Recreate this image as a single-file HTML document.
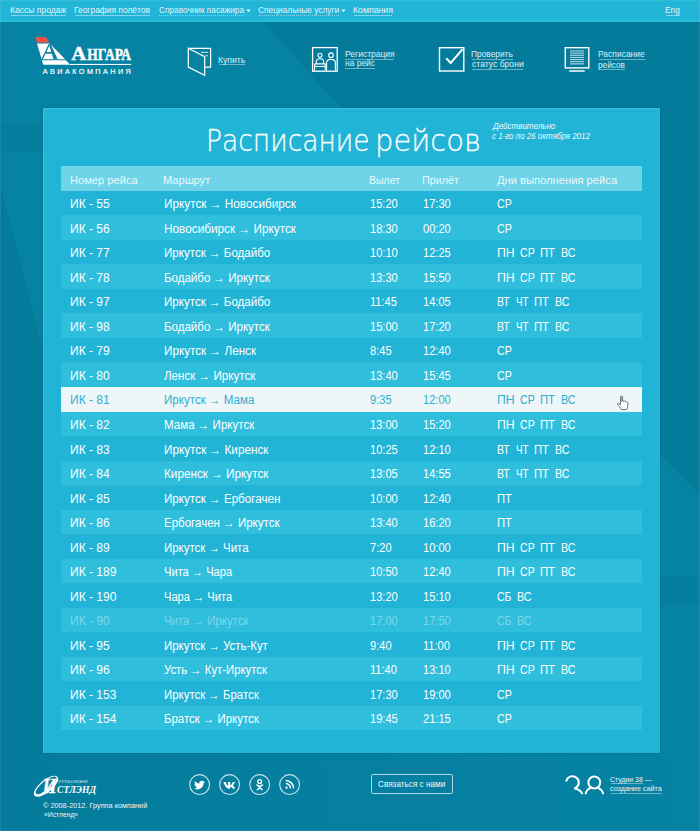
<!DOCTYPE html>
<html lang="ru"><head><meta charset="utf-8"><title>Расписание рейсов — Ангара</title>
<style>
html,body{margin:0;padding:0}
html{background:#0682a3}
body{width:700px;height:831px;position:relative;overflow:hidden;background:#0a84a4;font-family:"Liberation Sans",sans-serif}
.t{position:absolute;white-space:nowrap;transform-origin:0 0;display:block}
.r{position:absolute;box-sizing:content-box}
.a,.bgsvg{position:absolute;display:block;overflow:visible}
.bgsvg{left:0;top:0}
.u{position:absolute;display:block;height:1px}
</style></head>
<body>
<svg class="bgsvg" width="700" height="831" viewBox="0 0 700 831">
<defs><linearGradient id="fg" x1="0" y1="0" x2="1" y2="0"><stop offset="0" stop-color="#047b9b"/><stop offset=".25" stop-color="#057e9e"/><stop offset="1" stop-color="#0682a3"/></linearGradient></defs>
<rect width="700" height="831" fill="#0682a3"/>
<polygon points="264,22 700,22 700,495 660,455 660,108 341,108" fill="#047b9b"/>
<rect x="0" y="123" width="43" height="29" fill="#057e9e"/>
<polygon points="0,185 43,350 43,753 0,753" fill="#047b9b"/>
<rect x="0" y="753" width="700" height="78" fill="url(#fg)"/>
<rect x="660" y="576" width="40" height="30" fill="#057f9f"/>
</svg>
<div class="r" style="left:0px;top:0px;width:700px;height:22px;background:#22b5d7;"></div>
<div class="r" style="left:0px;top:20px;width:700px;height:1.6px;background:#27bcdc;"></div>
<span class="t " style="left:9.82px;top:5px;font:normal normal 8.6px/10px 'Liberation Sans',sans-serif;color:#e0f4fa;transform:scaleX(0.9944);">Кассы продаж</span>
<i class="u" style="left:10.50px;top:15.00px;width:55.50px;background:rgba(255,255,255,.42)"></i>
<span class="t " style="left:74.33px;top:5px;font:normal normal 8.6px/10px 'Liberation Sans',sans-serif;color:#e0f4fa;transform:scaleX(0.9804);">География полётов</span>
<i class="u" style="left:75.00px;top:15.00px;width:75.00px;background:rgba(255,255,255,.42)"></i>
<span class="t " style="left:158.89px;top:5px;font:normal normal 8.6px/10px 'Liberation Sans',sans-serif;color:#e0f4fa;transform:scaleX(0.9637);">Справочник пасажира</span>
<i class="u" style="left:159.30px;top:15.00px;width:84.70px;border-top:1px dotted rgba(255,255,255,.42);height:0"></i>
<span class="t " style="left:258.33px;top:5px;font:normal normal 8.6px/10px 'Liberation Sans',sans-serif;color:#e0f4fa;transform:scaleX(0.9731);">Специальные услуги</span>
<i class="u" style="left:258.75px;top:15.00px;width:80.30px;border-top:1px dotted rgba(255,255,255,.42);height:0"></i>
<span class="t " style="left:353.05px;top:5px;font:normal normal 8.6px/10px 'Liberation Sans',sans-serif;color:#e0f4fa;transform:scaleX(1.0158);">Компания</span>
<i class="u" style="left:353.75px;top:15.00px;width:38.70px;background:rgba(255,255,255,.42)"></i>
<span class="t " style="left:665.33px;top:5px;font:normal normal 8.6px/10px 'Liberation Sans',sans-serif;color:#e0f4fa;transform:scaleX(0.9714);">Eng</span>
<i class="u" style="left:666.00px;top:15.00px;width:13.70px;background:rgba(255,255,255,.42)"></i>
<svg class="a" style="left:245.5px;top:9px" width="5" height="4" viewBox="0 0 5 4"><path d="M0.3 0.6 L4.7 0.6 L2.5 3.2 Z" fill="#eaf8fc"/></svg>
<svg class="a" style="left:341.0px;top:9px" width="5" height="4" viewBox="0 0 5 4"><path d="M0.3 0.6 L4.7 0.6 L2.5 3.2 Z" fill="#eaf8fc"/></svg>
<svg class="a" style="left:30px;top:30px" width="110" height="50" viewBox="30 30 110 50">
<polygon points="35.2,36.9 45.6,36.9 49.4,42.5 36.9,42.5" fill="#f0524b"/>
<polygon points="37,43.4 49.7,43.4 65.2,59.2 41.7,59.2" fill="#fff"/>
<polygon points="41.8,60.2 65.9,60.2 70.2,64.7 43.4,64.7" fill="#fff"/>
<path d="M49.5 43.9 L42.1 59.4" fill="none" stroke="#0a84a4" stroke-width="1.3"/>
<polygon points="49.1,44 50.7,44 57.6,59.3 53.5,59.3 49.6,46.6" fill="#0a84a4"/>
<rect x="45.6" y="52" width="7" height="1.7" fill="#0a84a4"/>
<rect x="70" y="63.9" width="61" height="1.1" fill="#fff"/>
<text x="71.2" y="59.6" font-family="'Liberation Serif',serif" font-weight="bold" font-size="19.4" fill="#fff" stroke="#fff" stroke-width=".4" textLength="15" lengthAdjust="spacingAndGlyphs">А</text>
<text x="87.3" y="59.6" font-family="'Liberation Serif',serif" font-weight="bold" font-size="16.8" fill="#fff" stroke="#fff" stroke-width=".5" textLength="43.6" lengthAdjust="spacingAndGlyphs">НГАРА</text>
<text x="42.8" y="73.6" font-family="'Liberation Sans',sans-serif" font-size="7.2" fill="#fff" stroke="#fff" stroke-width=".2" textLength="88" lengthAdjust="spacing">АВИАКОМПАНИЯ</text>
</svg>
<svg class="a" style="left:185px;top:45px" width="30" height="34" viewBox="185 45 30 34" fill="none" stroke="#fff" stroke-width="1.25" stroke-linejoin="miter">
<path d="M188.3 48.3 H210.6 V67.2 H205"/>
<path d="M188.3 48.3 L204.7 56.6 V75.3 L188.3 67 Z"/>
<path d="M201 52.3 H208 M205.3 55.8 H208" stroke-width="1" opacity=".8"/>
</svg>
<span class="t " style="left:218.21px;top:55px;font:normal normal 8.8px/10px 'Liberation Sans',sans-serif;color:#d9f0f7;transform:scaleX(0.9794);">Купить</span>
<i class="u" style="left:218.90px;top:64.40px;width:26.20px;background:rgba(255,255,255,.42)"></i>
<svg class="a" style="left:310px;top:45px" width="30" height="30" viewBox="310 45 30 30" fill="none" stroke="#fff" stroke-width="1.3">
<rect x="312.6" y="47.6" width="24.6" height="23.6"/>
<circle cx="320" cy="55.3" r="2" stroke-width="1.1"/>
<path d="M316.3 63.8 V61.6 Q316.3 58.8 320 58.8 Q323.7 58.8 323.7 61.6 V63.8" stroke-width="1.1"/>
<path d="M314.6 63.9 H325.2 V70.6 M314.6 63.9 V70.6 M314.6 66.5 H325.2" stroke-width="1.1"/>
<circle cx="331" cy="55.2" r="2.3" stroke-width="1.1"/>
<path d="M326.6 70.6 V62.8 Q326.6 59.4 331 59.4 Q335.4 59.4 335.4 62.8 V70.6" stroke-width="1.1"/>
</svg>
<span class="t " style="left:344.72px;top:49px;font:normal normal 8.8px/10px 'Liberation Sans',sans-serif;color:#d9f0f7;transform:scaleX(0.9669);">Регистрация</span>
<i class="u" style="left:345.40px;top:58.70px;width:48.50px;background:rgba(255,255,255,.42)"></i>
<span class="t " style="left:344.81px;top:58px;font:normal normal 8.8px/10px 'Liberation Sans',sans-serif;color:#d9f0f7;transform:scaleX(0.9590);">на рейс</span>
<i class="u" style="left:345.40px;top:68.10px;width:29.20px;background:rgba(255,255,255,.42)"></i>
<svg class="a" style="left:436px;top:45px" width="32" height="30" viewBox="436 45 32 30" fill="none" stroke="#fff">
<rect x="439.5" y="47.7" width="24.3" height="23.3" stroke-width="1.4"/>
<path d="M446.2 58.2 L450.7 62.9 L462.4 49.4" stroke-width="2"/>
</svg>
<span class="t " style="left:471.43px;top:49px;font:normal normal 8.8px/10px 'Liberation Sans',sans-serif;color:#d9f0f7;transform:scaleX(0.9501);">Проверить</span>
<i class="u" style="left:472.10px;top:59.10px;width:40.80px;background:rgba(255,255,255,.42)"></i>
<span class="t " style="left:471.76px;top:59px;font:normal normal 8.8px/10px 'Liberation Sans',sans-serif;color:#d9f0f7;transform:scaleX(0.9776);">статус брони</span>
<i class="u" style="left:472.10px;top:68.90px;width:50.80px;background:rgba(255,255,255,.42)"></i>
<svg class="a" style="left:562px;top:45px" width="32" height="30" viewBox="562 45 32 30" fill="none" stroke="#fff"><rect x="565.3" y="47.7" width="23.5" height="20.2" stroke-width="1.4"/><path d="M569.3 71 H584.7" stroke-width="1.5"/><path d="M570 51.00 H584" stroke-width="1" opacity=".75"/><path d="M570 53.15 H584" stroke-width="1" opacity=".75"/><path d="M570 55.30 H584" stroke-width="1" opacity=".75"/><path d="M570 57.45 H584" stroke-width="1" opacity=".75"/><path d="M570 59.60 H584" stroke-width="1" opacity=".75"/><path d="M570 61.75 H584" stroke-width="1" opacity=".75"/><path d="M570 63.90 H584" stroke-width="1" opacity=".75"/></svg>
<span class="t " style="left:598.32px;top:49px;font:normal normal 8.8px/10px 'Liberation Sans',sans-serif;color:#d9f0f7;transform:scaleX(0.9635);">Расписание</span>
<i class="u" style="left:599.00px;top:59.10px;width:45.70px;background:rgba(255,255,255,.42)"></i>
<span class="t " style="left:598.47px;top:60px;font:normal normal 8.8px/10px 'Liberation Sans',sans-serif;color:#d9f0f7;transform:scaleX(0.9335);">рейсов</span>
<i class="u" style="left:599.00px;top:69.30px;width:26.00px;background:rgba(255,255,255,.42)"></i>
<div class="r" style="left:43px;top:108px;width:617px;height:645px;background:#21b4d6;box-shadow:0 0 1.5px rgba(0,50,70,.45), inset 1px 1px 0 rgba(70,215,245,.45);"></div>
<span class="t " style="left:206.32px;top:124px;font:normal 200 29.6px/34px 'DejaVu Sans Light','DejaVu Sans',sans-serif;color:#fafeff;transform:scaleX(0.8962);-webkit-text-stroke:.3px #fafeff;">Расписание</span>
<span class="t " style="left:375.47px;top:124px;font:normal 200 29.6px/34px 'DejaVu Sans Light','DejaVu Sans',sans-serif;color:#fafeff;transform:scaleX(0.9784);-webkit-text-stroke:.3px #fafeff;">рейсов</span>
<span class="t " style="left:493.16px;top:121px;font:italic normal 8.3px/10px 'Liberation Sans',sans-serif;color:#f2fbfd;transform:scaleX(0.9645);">Действительно</span>
<span class="t " style="left:492.16px;top:131px;font:italic normal 8.3px/10px 'Liberation Sans',sans-serif;color:#f2fbfd;transform:scaleX(0.9595);">с 1-го по 26 октября 2012</span>
<div class="r" style="left:61px;top:166.3px;width:581px;height:24.53px;background:#6fd4e8;"></div>
<span class="t " style="left:69.71px;top:174px;font:normal normal 11.2px/12px 'Liberation Sans',sans-serif;color:rgba(255,255,255,.88);transform:scaleX(0.9940);">Номер рейса</span>
<span class="t " style="left:162.86px;top:174px;font:normal normal 11.2px/12px 'Liberation Sans',sans-serif;color:rgba(255,255,255,.88);transform:scaleX(0.9904);">Маршрут</span>
<span class="t " style="left:369.16px;top:174px;font:normal normal 11.2px/12px 'Liberation Sans',sans-serif;color:rgba(255,255,255,.88);transform:scaleX(0.9398);">Вылет</span>
<span class="t " style="left:422.14px;top:174px;font:normal normal 11.2px/12px 'Liberation Sans',sans-serif;color:rgba(255,255,255,.88);transform:scaleX(0.9638);">Прилёт</span>
<span class="t " style="left:496.94px;top:174px;font:normal normal 11.2px/12px 'Liberation Sans',sans-serif;color:rgba(255,255,255,.88);">Дни выполнения рейса</span>
<span class="t " style="left:70.04px;top:197px;font:normal normal 12px/14px 'Liberation Sans',sans-serif;color:#fff;">ИК - 55</span>
<span class="t " style="left:163.56px;top:197px;font:normal normal 12px/14px 'Liberation Sans',sans-serif;color:#fff;transform:scaleX(0.9813);">Иркутск → Новосибирск</span>
<span class="t " style="left:369.77px;top:197px;font:normal normal 12px/14px 'Liberation Sans',sans-serif;color:#fff;transform:scaleX(0.9250);">15:20</span>
<span class="t " style="left:422.77px;top:197px;font:normal normal 12px/14px 'Liberation Sans',sans-serif;color:#fff;transform:scaleX(0.9250);">17:30</span>
<span class="t " style="left:496.97px;top:197px;font:normal normal 12px/14px 'Liberation Sans',sans-serif;color:#fff;transform:scaleX(0.8820);">СР</span>
<div class="r" style="left:61px;top:215.36px;width:581px;height:24.53px;background:#30bedd;"></div>
<span class="t " style="left:70.04px;top:222px;font:normal normal 12px/14px 'Liberation Sans',sans-serif;color:#fff;">ИК - 56</span>
<span class="t " style="left:163.56px;top:222px;font:normal normal 12px/14px 'Liberation Sans',sans-serif;color:#fff;transform:scaleX(0.9820);">Новосибирск → Иркутск</span>
<span class="t " style="left:369.77px;top:222px;font:normal normal 12px/14px 'Liberation Sans',sans-serif;color:#fff;transform:scaleX(0.9250);">18:30</span>
<span class="t " style="left:423.16px;top:222px;font:normal normal 12px/14px 'Liberation Sans',sans-serif;color:#fff;transform:scaleX(0.9250);">00:20</span>
<span class="t " style="left:496.97px;top:222px;font:normal normal 12px/14px 'Liberation Sans',sans-serif;color:#fff;transform:scaleX(0.8820);">СР</span>
<span class="t " style="left:70.04px;top:246px;font:normal normal 12px/14px 'Liberation Sans',sans-serif;color:#fff;">ИК - 77</span>
<span class="t " style="left:163.57px;top:246px;font:normal normal 12px/14px 'Liberation Sans',sans-serif;color:#fff;transform:scaleX(0.9649);">Иркутск → Бодайбо</span>
<span class="t " style="left:369.77px;top:246px;font:normal normal 12px/14px 'Liberation Sans',sans-serif;color:#fff;transform:scaleX(0.9250);">10:10</span>
<span class="t " style="left:422.77px;top:246px;font:normal normal 12px/14px 'Liberation Sans',sans-serif;color:#fff;transform:scaleX(0.9250);">12:25</span>
<span class="t " style="left:496.52px;top:246px;font:normal normal 12px/14px 'Liberation Sans',sans-serif;color:#fff;transform:scaleX(1.0221);">ПН</span>
<span class="t " style="left:519.87px;top:246px;font:normal normal 12px/14px 'Liberation Sans',sans-serif;color:#fff;transform:scaleX(0.8820);">СР</span>
<span class="t " style="left:540.30px;top:246px;font:normal normal 12px/14px 'Liberation Sans',sans-serif;color:#fff;transform:scaleX(0.9417);">ПТ</span>
<span class="t " style="left:561.44px;top:246px;font:normal normal 12px/14px 'Liberation Sans',sans-serif;color:#fff;transform:scaleX(0.8938);">ВС</span>
<div class="r" style="left:61px;top:264.42px;width:581px;height:24.53px;background:#30bedd;"></div>
<span class="t " style="left:70.04px;top:271px;font:normal normal 12px/14px 'Liberation Sans',sans-serif;color:#fff;">ИК - 78</span>
<span class="t " style="left:163.58px;top:271px;font:normal normal 12px/14px 'Liberation Sans',sans-serif;color:#fff;transform:scaleX(0.9601);">Бодайбо → Иркутск</span>
<span class="t " style="left:369.77px;top:271px;font:normal normal 12px/14px 'Liberation Sans',sans-serif;color:#fff;transform:scaleX(0.9250);">13:30</span>
<span class="t " style="left:422.77px;top:271px;font:normal normal 12px/14px 'Liberation Sans',sans-serif;color:#fff;transform:scaleX(0.9250);">15:50</span>
<span class="t " style="left:496.52px;top:271px;font:normal normal 12px/14px 'Liberation Sans',sans-serif;color:#fff;transform:scaleX(1.0221);">ПН</span>
<span class="t " style="left:519.87px;top:271px;font:normal normal 12px/14px 'Liberation Sans',sans-serif;color:#fff;transform:scaleX(0.8820);">СР</span>
<span class="t " style="left:540.30px;top:271px;font:normal normal 12px/14px 'Liberation Sans',sans-serif;color:#fff;transform:scaleX(0.9417);">ПТ</span>
<span class="t " style="left:561.44px;top:271px;font:normal normal 12px/14px 'Liberation Sans',sans-serif;color:#fff;transform:scaleX(0.8938);">ВС</span>
<span class="t " style="left:70.04px;top:295px;font:normal normal 12px/14px 'Liberation Sans',sans-serif;color:#fff;">ИК - 97</span>
<span class="t " style="left:163.57px;top:295px;font:normal normal 12px/14px 'Liberation Sans',sans-serif;color:#fff;transform:scaleX(0.9649);">Иркутск → Бодайбо</span>
<span class="t " style="left:369.77px;top:295px;font:normal normal 12px/14px 'Liberation Sans',sans-serif;color:#fff;transform:scaleX(0.9250);">11:45</span>
<span class="t " style="left:422.77px;top:295px;font:normal normal 12px/14px 'Liberation Sans',sans-serif;color:#fff;transform:scaleX(0.9250);">14:05</span>
<span class="t " style="left:496.66px;top:295px;font:normal normal 12px/14px 'Liberation Sans',sans-serif;color:#fff;transform:scaleX(0.8709);">ВТ</span>
<span class="t " style="left:515.56px;top:295px;font:normal normal 12px/14px 'Liberation Sans',sans-serif;color:#fff;transform:scaleX(0.8192);">ЧТ</span>
<span class="t " style="left:534.20px;top:295px;font:normal normal 12px/14px 'Liberation Sans',sans-serif;color:#fff;transform:scaleX(0.9417);">ПТ</span>
<span class="t " style="left:555.34px;top:295px;font:normal normal 12px/14px 'Liberation Sans',sans-serif;color:#fff;transform:scaleX(0.8938);">ВС</span>
<div class="r" style="left:61px;top:313.48px;width:581px;height:24.53px;background:#30bedd;"></div>
<span class="t " style="left:70.04px;top:320px;font:normal normal 12px/14px 'Liberation Sans',sans-serif;color:#fff;">ИК - 98</span>
<span class="t " style="left:163.58px;top:320px;font:normal normal 12px/14px 'Liberation Sans',sans-serif;color:#fff;transform:scaleX(0.9601);">Бодайбо → Иркутск</span>
<span class="t " style="left:369.77px;top:320px;font:normal normal 12px/14px 'Liberation Sans',sans-serif;color:#fff;transform:scaleX(0.9250);">15:00</span>
<span class="t " style="left:422.77px;top:320px;font:normal normal 12px/14px 'Liberation Sans',sans-serif;color:#fff;transform:scaleX(0.9250);">17:20</span>
<span class="t " style="left:496.66px;top:320px;font:normal normal 12px/14px 'Liberation Sans',sans-serif;color:#fff;transform:scaleX(0.8709);">ВТ</span>
<span class="t " style="left:515.56px;top:320px;font:normal normal 12px/14px 'Liberation Sans',sans-serif;color:#fff;transform:scaleX(0.8192);">ЧТ</span>
<span class="t " style="left:534.20px;top:320px;font:normal normal 12px/14px 'Liberation Sans',sans-serif;color:#fff;transform:scaleX(0.9417);">ПТ</span>
<span class="t " style="left:555.34px;top:320px;font:normal normal 12px/14px 'Liberation Sans',sans-serif;color:#fff;transform:scaleX(0.8938);">ВС</span>
<span class="t " style="left:70.04px;top:344px;font:normal normal 12px/14px 'Liberation Sans',sans-serif;color:#fff;">ИК - 79</span>
<span class="t " style="left:163.56px;top:344px;font:normal normal 12px/14px 'Liberation Sans',sans-serif;color:#fff;transform:scaleX(0.9756);">Иркутск → Ленск</span>
<span class="t " style="left:370.16px;top:344px;font:normal normal 12px/14px 'Liberation Sans',sans-serif;color:#fff;transform:scaleX(0.9250);">8:45</span>
<span class="t " style="left:422.77px;top:344px;font:normal normal 12px/14px 'Liberation Sans',sans-serif;color:#fff;transform:scaleX(0.9250);">12:40</span>
<span class="t " style="left:496.97px;top:344px;font:normal normal 12px/14px 'Liberation Sans',sans-serif;color:#fff;transform:scaleX(0.8820);">СР</span>
<div class="r" style="left:61px;top:362.54px;width:581px;height:24.53px;background:#30bedd;"></div>
<span class="t " style="left:70.04px;top:369px;font:normal normal 12px/14px 'Liberation Sans',sans-serif;color:#fff;">ИК - 80</span>
<span class="t " style="left:164.38px;top:369px;font:normal normal 12px/14px 'Liberation Sans',sans-serif;color:#fff;transform:scaleX(0.9669);">Ленск → Иркутск</span>
<span class="t " style="left:369.77px;top:369px;font:normal normal 12px/14px 'Liberation Sans',sans-serif;color:#fff;transform:scaleX(0.9250);">13:40</span>
<span class="t " style="left:422.77px;top:369px;font:normal normal 12px/14px 'Liberation Sans',sans-serif;color:#fff;transform:scaleX(0.9250);">15:45</span>
<span class="t " style="left:496.97px;top:369px;font:normal normal 12px/14px 'Liberation Sans',sans-serif;color:#fff;transform:scaleX(0.8820);">СР</span>
<div class="r" style="left:61px;top:387.07px;width:581px;height:24.53px;background:#eef6f8;"></div>
<span class="t " style="left:70.04px;top:393px;font:normal normal 12px/14px 'Liberation Sans',sans-serif;color:#2cb0d2;">ИК - 81</span>
<span class="t " style="left:163.57px;top:393px;font:normal normal 12px/14px 'Liberation Sans',sans-serif;color:#2cb0d2;transform:scaleX(0.9644);">Иркутск → Мама</span>
<span class="t " style="left:370.10px;top:393px;font:normal normal 12px/14px 'Liberation Sans',sans-serif;color:#2cb0d2;transform:scaleX(0.9250);">9:35</span>
<span class="t " style="left:422.77px;top:393px;font:normal normal 12px/14px 'Liberation Sans',sans-serif;color:#2cb0d2;transform:scaleX(0.9250);">12:00</span>
<span class="t " style="left:496.52px;top:393px;font:normal normal 12px/14px 'Liberation Sans',sans-serif;color:#2cb0d2;transform:scaleX(1.0221);">ПН</span>
<span class="t " style="left:519.87px;top:393px;font:normal normal 12px/14px 'Liberation Sans',sans-serif;color:#2cb0d2;transform:scaleX(0.8820);">СР</span>
<span class="t " style="left:540.30px;top:393px;font:normal normal 12px/14px 'Liberation Sans',sans-serif;color:#2cb0d2;transform:scaleX(0.9417);">ПТ</span>
<span class="t " style="left:561.44px;top:393px;font:normal normal 12px/14px 'Liberation Sans',sans-serif;color:#2cb0d2;transform:scaleX(0.8938);">ВС</span>
<div class="r" style="left:61px;top:411.6px;width:581px;height:24.53px;background:#30bedd;"></div>
<span class="t " style="left:70.04px;top:418px;font:normal normal 12px/14px 'Liberation Sans',sans-serif;color:#fff;">ИК - 82</span>
<span class="t " style="left:163.57px;top:418px;font:normal normal 12px/14px 'Liberation Sans',sans-serif;color:#fff;transform:scaleX(0.9638);">Мама → Иркутск</span>
<span class="t " style="left:369.77px;top:418px;font:normal normal 12px/14px 'Liberation Sans',sans-serif;color:#fff;transform:scaleX(0.9250);">13:00</span>
<span class="t " style="left:422.77px;top:418px;font:normal normal 12px/14px 'Liberation Sans',sans-serif;color:#fff;transform:scaleX(0.9250);">15:20</span>
<span class="t " style="left:496.52px;top:418px;font:normal normal 12px/14px 'Liberation Sans',sans-serif;color:#fff;transform:scaleX(1.0221);">ПН</span>
<span class="t " style="left:519.87px;top:418px;font:normal normal 12px/14px 'Liberation Sans',sans-serif;color:#fff;transform:scaleX(0.8820);">СР</span>
<span class="t " style="left:540.30px;top:418px;font:normal normal 12px/14px 'Liberation Sans',sans-serif;color:#fff;transform:scaleX(0.9417);">ПТ</span>
<span class="t " style="left:561.44px;top:418px;font:normal normal 12px/14px 'Liberation Sans',sans-serif;color:#fff;transform:scaleX(0.8938);">ВС</span>
<span class="t " style="left:70.04px;top:443px;font:normal normal 12px/14px 'Liberation Sans',sans-serif;color:#fff;">ИК - 83</span>
<span class="t " style="left:163.56px;top:443px;font:normal normal 12px/14px 'Liberation Sans',sans-serif;color:#fff;transform:scaleX(0.9768);">Иркутск → Киренск</span>
<span class="t " style="left:369.77px;top:443px;font:normal normal 12px/14px 'Liberation Sans',sans-serif;color:#fff;transform:scaleX(0.9250);">10:25</span>
<span class="t " style="left:422.77px;top:443px;font:normal normal 12px/14px 'Liberation Sans',sans-serif;color:#fff;transform:scaleX(0.9250);">12:10</span>
<span class="t " style="left:496.66px;top:443px;font:normal normal 12px/14px 'Liberation Sans',sans-serif;color:#fff;transform:scaleX(0.8709);">ВТ</span>
<span class="t " style="left:515.56px;top:443px;font:normal normal 12px/14px 'Liberation Sans',sans-serif;color:#fff;transform:scaleX(0.8192);">ЧТ</span>
<span class="t " style="left:534.20px;top:443px;font:normal normal 12px/14px 'Liberation Sans',sans-serif;color:#fff;transform:scaleX(0.9417);">ПТ</span>
<span class="t " style="left:555.34px;top:443px;font:normal normal 12px/14px 'Liberation Sans',sans-serif;color:#fff;transform:scaleX(0.8938);">ВС</span>
<div class="r" style="left:61px;top:460.66px;width:581px;height:24.53px;background:#30bedd;"></div>
<span class="t " style="left:70.04px;top:467px;font:normal normal 12px/14px 'Liberation Sans',sans-serif;color:#fff;">ИК - 84</span>
<span class="t " style="left:163.56px;top:467px;font:normal normal 12px/14px 'Liberation Sans',sans-serif;color:#fff;transform:scaleX(0.9768);">Киренск → Иркутск</span>
<span class="t " style="left:369.77px;top:467px;font:normal normal 12px/14px 'Liberation Sans',sans-serif;color:#fff;transform:scaleX(0.9250);">13:05</span>
<span class="t " style="left:422.77px;top:467px;font:normal normal 12px/14px 'Liberation Sans',sans-serif;color:#fff;transform:scaleX(0.9250);">14:55</span>
<span class="t " style="left:496.66px;top:467px;font:normal normal 12px/14px 'Liberation Sans',sans-serif;color:#fff;transform:scaleX(0.8709);">ВТ</span>
<span class="t " style="left:515.56px;top:467px;font:normal normal 12px/14px 'Liberation Sans',sans-serif;color:#fff;transform:scaleX(0.8192);">ЧТ</span>
<span class="t " style="left:534.20px;top:467px;font:normal normal 12px/14px 'Liberation Sans',sans-serif;color:#fff;transform:scaleX(0.9417);">ПТ</span>
<span class="t " style="left:555.34px;top:467px;font:normal normal 12px/14px 'Liberation Sans',sans-serif;color:#fff;transform:scaleX(0.8938);">ВС</span>
<span class="t " style="left:70.04px;top:492px;font:normal normal 12px/14px 'Liberation Sans',sans-serif;color:#fff;">ИК - 85</span>
<span class="t " style="left:163.57px;top:492px;font:normal normal 12px/14px 'Liberation Sans',sans-serif;color:#fff;transform:scaleX(0.9671);">Иркутск → Ербогачен</span>
<span class="t " style="left:369.77px;top:492px;font:normal normal 12px/14px 'Liberation Sans',sans-serif;color:#fff;transform:scaleX(0.9250);">10:00</span>
<span class="t " style="left:422.77px;top:492px;font:normal normal 12px/14px 'Liberation Sans',sans-serif;color:#fff;transform:scaleX(0.9250);">12:40</span>
<span class="t " style="left:496.60px;top:492px;font:normal normal 12px/14px 'Liberation Sans',sans-serif;color:#fff;transform:scaleX(0.9417);">ПТ</span>
<div class="r" style="left:61px;top:509.72px;width:581px;height:24.53px;background:#30bedd;"></div>
<span class="t " style="left:70.04px;top:516px;font:normal normal 12px/14px 'Liberation Sans',sans-serif;color:#fff;">ИК - 86</span>
<span class="t " style="left:163.58px;top:516px;font:normal normal 12px/14px 'Liberation Sans',sans-serif;color:#fff;transform:scaleX(0.9603);">Ербогачен → Иркутск</span>
<span class="t " style="left:369.77px;top:516px;font:normal normal 12px/14px 'Liberation Sans',sans-serif;color:#fff;transform:scaleX(0.9250);">13:40</span>
<span class="t " style="left:422.77px;top:516px;font:normal normal 12px/14px 'Liberation Sans',sans-serif;color:#fff;transform:scaleX(0.9250);">16:20</span>
<span class="t " style="left:496.60px;top:516px;font:normal normal 12px/14px 'Liberation Sans',sans-serif;color:#fff;transform:scaleX(0.9417);">ПТ</span>
<span class="t " style="left:70.04px;top:541px;font:normal normal 12px/14px 'Liberation Sans',sans-serif;color:#fff;">ИК - 89</span>
<span class="t " style="left:163.59px;top:541px;font:normal normal 12px/14px 'Liberation Sans',sans-serif;color:#fff;transform:scaleX(0.9530);">Иркутск → Чита</span>
<span class="t " style="left:370.05px;top:541px;font:normal normal 12px/14px 'Liberation Sans',sans-serif;color:#fff;transform:scaleX(0.9250);">7:20</span>
<span class="t " style="left:422.77px;top:541px;font:normal normal 12px/14px 'Liberation Sans',sans-serif;color:#fff;transform:scaleX(0.9250);">10:00</span>
<span class="t " style="left:496.52px;top:541px;font:normal normal 12px/14px 'Liberation Sans',sans-serif;color:#fff;transform:scaleX(1.0221);">ПН</span>
<span class="t " style="left:519.87px;top:541px;font:normal normal 12px/14px 'Liberation Sans',sans-serif;color:#fff;transform:scaleX(0.8820);">СР</span>
<span class="t " style="left:540.30px;top:541px;font:normal normal 12px/14px 'Liberation Sans',sans-serif;color:#fff;transform:scaleX(0.9417);">ПТ</span>
<span class="t " style="left:561.44px;top:541px;font:normal normal 12px/14px 'Liberation Sans',sans-serif;color:#fff;transform:scaleX(0.8938);">ВС</span>
<div class="r" style="left:61px;top:558.78px;width:581px;height:24.53px;background:#30bedd;"></div>
<span class="t " style="left:70.04px;top:565px;font:normal normal 12px/14px 'Liberation Sans',sans-serif;color:#fff;">ИК - 189</span>
<span class="t " style="left:163.67px;top:565px;font:normal normal 12px/14px 'Liberation Sans',sans-serif;color:#fff;transform:scaleX(0.9278);">Чита → Чара</span>
<span class="t " style="left:369.77px;top:565px;font:normal normal 12px/14px 'Liberation Sans',sans-serif;color:#fff;transform:scaleX(0.9250);">10:50</span>
<span class="t " style="left:422.77px;top:565px;font:normal normal 12px/14px 'Liberation Sans',sans-serif;color:#fff;transform:scaleX(0.9250);">12:40</span>
<span class="t " style="left:496.52px;top:565px;font:normal normal 12px/14px 'Liberation Sans',sans-serif;color:#fff;transform:scaleX(1.0221);">ПН</span>
<span class="t " style="left:519.87px;top:565px;font:normal normal 12px/14px 'Liberation Sans',sans-serif;color:#fff;transform:scaleX(0.8820);">СР</span>
<span class="t " style="left:540.30px;top:565px;font:normal normal 12px/14px 'Liberation Sans',sans-serif;color:#fff;transform:scaleX(0.9417);">ПТ</span>
<span class="t " style="left:561.44px;top:565px;font:normal normal 12px/14px 'Liberation Sans',sans-serif;color:#fff;transform:scaleX(0.8938);">ВС</span>
<span class="t " style="left:70.04px;top:590px;font:normal normal 12px/14px 'Liberation Sans',sans-serif;color:#fff;">ИК - 190</span>
<span class="t " style="left:163.67px;top:590px;font:normal normal 12px/14px 'Liberation Sans',sans-serif;color:#fff;transform:scaleX(0.9278);">Чара → Чита</span>
<span class="t " style="left:369.77px;top:590px;font:normal normal 12px/14px 'Liberation Sans',sans-serif;color:#fff;transform:scaleX(0.9250);">13:20</span>
<span class="t " style="left:422.77px;top:590px;font:normal normal 12px/14px 'Liberation Sans',sans-serif;color:#fff;transform:scaleX(0.9250);">15:10</span>
<span class="t " style="left:496.98px;top:590px;font:normal normal 12px/14px 'Liberation Sans',sans-serif;color:#fff;transform:scaleX(0.8627);">СБ</span>
<span class="t " style="left:517.04px;top:590px;font:normal normal 12px/14px 'Liberation Sans',sans-serif;color:#fff;transform:scaleX(0.8938);">ВС</span>
<div class="r" style="left:61px;top:607.84px;width:581px;height:24.53px;background:#30bedd;"></div>
<span class="t " style="left:70.04px;top:614px;font:normal normal 12px/14px 'Liberation Sans',sans-serif;color:#7fd6ea;">ИК - 90</span>
<span class="t " style="left:163.64px;top:614px;font:normal normal 12px/14px 'Liberation Sans',sans-serif;color:#7fd6ea;transform:scaleX(0.9517);">Чита → Иркутск</span>
<span class="t " style="left:369.77px;top:614px;font:normal normal 12px/14px 'Liberation Sans',sans-serif;color:#7fd6ea;transform:scaleX(0.9250);">17:00</span>
<span class="t " style="left:422.77px;top:614px;font:normal normal 12px/14px 'Liberation Sans',sans-serif;color:#7fd6ea;transform:scaleX(0.9250);">17:50</span>
<span class="t " style="left:496.98px;top:614px;font:normal normal 12px/14px 'Liberation Sans',sans-serif;color:#7fd6ea;transform:scaleX(0.8627);">СБ</span>
<span class="t " style="left:517.04px;top:614px;font:normal normal 12px/14px 'Liberation Sans',sans-serif;color:#7fd6ea;transform:scaleX(0.8938);">ВС</span>
<span class="t " style="left:70.04px;top:639px;font:normal normal 12px/14px 'Liberation Sans',sans-serif;color:#fff;">ИК - 95</span>
<span class="t " style="left:163.59px;top:639px;font:normal normal 12px/14px 'Liberation Sans',sans-serif;color:#fff;transform:scaleX(0.9525);">Иркутск → Усть-Кут</span>
<span class="t " style="left:370.10px;top:639px;font:normal normal 12px/14px 'Liberation Sans',sans-serif;color:#fff;transform:scaleX(0.9250);">9:40</span>
<span class="t " style="left:422.77px;top:639px;font:normal normal 12px/14px 'Liberation Sans',sans-serif;color:#fff;transform:scaleX(0.9250);">11:00</span>
<span class="t " style="left:496.52px;top:639px;font:normal normal 12px/14px 'Liberation Sans',sans-serif;color:#fff;transform:scaleX(1.0221);">ПН</span>
<span class="t " style="left:519.87px;top:639px;font:normal normal 12px/14px 'Liberation Sans',sans-serif;color:#fff;transform:scaleX(0.8820);">СР</span>
<span class="t " style="left:540.30px;top:639px;font:normal normal 12px/14px 'Liberation Sans',sans-serif;color:#fff;transform:scaleX(0.9417);">ПТ</span>
<span class="t " style="left:561.44px;top:639px;font:normal normal 12px/14px 'Liberation Sans',sans-serif;color:#fff;transform:scaleX(0.8938);">ВС</span>
<div class="r" style="left:61px;top:656.9px;width:581px;height:24.53px;background:#30bedd;"></div>
<span class="t " style="left:70.04px;top:663px;font:normal normal 12px/14px 'Liberation Sans',sans-serif;color:#fff;">ИК - 96</span>
<span class="t " style="left:164.22px;top:663px;font:normal normal 12px/14px 'Liberation Sans',sans-serif;color:#fff;transform:scaleX(0.9446);">Усть → Кут-Иркутск</span>
<span class="t " style="left:369.77px;top:663px;font:normal normal 12px/14px 'Liberation Sans',sans-serif;color:#fff;transform:scaleX(0.9250);">11:40</span>
<span class="t " style="left:422.77px;top:663px;font:normal normal 12px/14px 'Liberation Sans',sans-serif;color:#fff;transform:scaleX(0.9250);">13:10</span>
<span class="t " style="left:496.52px;top:663px;font:normal normal 12px/14px 'Liberation Sans',sans-serif;color:#fff;transform:scaleX(1.0221);">ПН</span>
<span class="t " style="left:519.87px;top:663px;font:normal normal 12px/14px 'Liberation Sans',sans-serif;color:#fff;transform:scaleX(0.8820);">СР</span>
<span class="t " style="left:540.30px;top:663px;font:normal normal 12px/14px 'Liberation Sans',sans-serif;color:#fff;transform:scaleX(0.9417);">ПТ</span>
<span class="t " style="left:561.44px;top:663px;font:normal normal 12px/14px 'Liberation Sans',sans-serif;color:#fff;transform:scaleX(0.8938);">ВС</span>
<span class="t " style="left:70.04px;top:688px;font:normal normal 12px/14px 'Liberation Sans',sans-serif;color:#fff;">ИК - 153</span>
<span class="t " style="left:163.59px;top:688px;font:normal normal 12px/14px 'Liberation Sans',sans-serif;color:#fff;transform:scaleX(0.9515);">Иркутск → Братск</span>
<span class="t " style="left:369.77px;top:688px;font:normal normal 12px/14px 'Liberation Sans',sans-serif;color:#fff;transform:scaleX(0.9250);">17:30</span>
<span class="t " style="left:422.77px;top:688px;font:normal normal 12px/14px 'Liberation Sans',sans-serif;color:#fff;transform:scaleX(0.9250);">19:00</span>
<span class="t " style="left:496.97px;top:688px;font:normal normal 12px/14px 'Liberation Sans',sans-serif;color:#fff;transform:scaleX(0.8820);">СР</span>
<div class="r" style="left:61px;top:705.96px;width:581px;height:24.53px;background:#30bedd;"></div>
<span class="t " style="left:70.04px;top:712px;font:normal normal 12px/14px 'Liberation Sans',sans-serif;color:#fff;">ИК - 154</span>
<span class="t " style="left:163.59px;top:712px;font:normal normal 12px/14px 'Liberation Sans',sans-serif;color:#fff;transform:scaleX(0.9515);">Братск → Иркутск</span>
<span class="t " style="left:369.77px;top:712px;font:normal normal 12px/14px 'Liberation Sans',sans-serif;color:#fff;transform:scaleX(0.9250);">19:45</span>
<span class="t " style="left:423.05px;top:712px;font:normal normal 12px/14px 'Liberation Sans',sans-serif;color:#fff;transform:scaleX(0.9250);">21:15</span>
<span class="t " style="left:496.97px;top:712px;font:normal normal 12px/14px 'Liberation Sans',sans-serif;color:#fff;transform:scaleX(0.8820);">СР</span>
<svg class="a" style="left:616px;top:395px" width="14" height="16" viewBox="0 0 14 16">
<path d="M4.6 1.6 Q5.6 0.6 6.6 1.6 L6.7 6.2 L8.2 6.0 L9.8 6.6 L11.3 7.3 Q12.2 7.8 12 9.2 L11.4 12.4 L10.6 14.6 L5.4 14.6 L3.6 11.6 L1.4 9.4 Q1.2 8.2 2.6 8.4 L4.5 9.8 Z" fill="#fff" stroke="#5c6872" stroke-width=".9" stroke-linejoin="round"/>
<path d="M5.1 2 L6.2 2 L6.2 6.5 L5.1 7 Z" fill="#8a949c"/>
</svg>
<svg class="a" style="left:30px;top:772px" width="72" height="28" viewBox="30 772 72 28">
<g transform="rotate(-39 46 786.2)"><path fill="#fff" fill-rule="evenodd" d="M31.2 786.2 a14.800 6.200 0 1 0 29.600 0 a14.800 6.200 0 1 0 -29.600 0 Z M33.600 785.700 a13 4.300 0 1 0 26 0 a13 4.300 0 1 0 -26 0 Z"/></g>
<text x="42.6" y="793.4" font-family="'Liberation Serif',serif" font-style="italic" font-weight="bold" font-size="20.5" fill="#fff" stroke="#fff" stroke-width=".3" textLength="14.2" lengthAdjust="spacingAndGlyphs">И</text>
<text x="57" y="792.5" font-family="'Liberation Serif',serif" font-style="italic" font-weight="bold" font-size="11.4" fill="#fff" textLength="39" lengthAdjust="spacingAndGlyphs">СТЛЭНД</text>
<text x="57.8" y="782.5" font-family="'Liberation Sans',sans-serif" font-size="3.2" fill="#fff" opacity=".8" textLength="30" lengthAdjust="spacingAndGlyphs">ГРУППА КОМПАНИЙ</text>
</svg>
<span class="t " style="left:42.99px;top:801px;font:normal normal 7.4px/9px 'Liberation Sans',sans-serif;color:#e9f6fa;transform:scaleX(0.9896);">© 2008-2012. Группа компаний</span>
<span class="t " style="left:44.03px;top:810px;font:normal normal 7.4px/9px 'Liberation Sans',sans-serif;color:#e9f6fa;transform:scaleX(0.9154);">«Истленд»</span>
<svg class="a" style="left:185px;top:770px" width="120" height="30" viewBox="185 770 120 30"><circle cx="199.6" cy="784.6" r="9.9" fill="none" stroke="rgba(255,255,255,.78)" stroke-width="1.15"/><circle cx="229.6" cy="784.6" r="9.9" fill="none" stroke="rgba(255,255,255,.78)" stroke-width="1.15"/><circle cx="259.7" cy="784.6" r="9.9" fill="none" stroke="rgba(255,255,255,.78)" stroke-width="1.15"/><circle cx="289.6" cy="784.6" r="9.9" fill="none" stroke="rgba(255,255,255,.78)" stroke-width="1.15"/><g transform="translate(194.2,779.6) scale(0.45)"><path d="M23.6 4.6c-.9.4-1.8.6-2.8.8 1-.6 1.800-1.600 2.100-2.700-.9.600-2 .95-3.100 1.200-.9-.950-2.200-1.500-3.600-1.500-2.700 0-4.900 2.200-4.900 4.900 0 .4 0 .8.100 1.100C7.400 8.200 3.700 6.200 1.300 3.200c-.4.700-.700 1.600-.700 2.500 0 1.700.900 3.200 2.200 4.100-.800 0-1.600-.2-2.200-.6v.1c0 2.400 1.700 4.400 3.900 4.800-.4.100-.8.200-1.300.2-.3 0-.6 0-.900-.1.600 2 2.400 3.400 4.600 3.400-1.700 1.300-3.800 2.100-6.100 2.100-.4 0-.8 0-1.200-.1 2.200 1.400 4.800 2.200 7.500 2.200 9.100 0 14-7.500 14-14v-.6c1-.7 1.800-1.600 2.500-2.600z" fill="#fff"/></g><g transform="translate(223.2,780.1) scale(0.0212,0.0205)"><path d="M545 117.7c3.700-12.500 0-21.700-17.800-21.700h-58.900c-15 0-21.900 7.900-25.600 16.700 0 0-30 73.100-72.400 120.500-13.700 13.700-20 18.100-27.500 18.100-3.700 0-9.400-4.400-9.400-16.900V117.700c0-15-4.200-21.700-16.600-21.700h-92.600c-9.400 0-15 7-15 13.500 0 14.200 21.200 17.500 23.400 57.500v86.800c0 19-3.400 22.500-10.900 22.500-20 0-68.600-73.400-97.400-157.400-5.800-16.300-11.500-22.900-26.600-22.900H38.800c-16.800 0-20.200 7.900-20.200 16.700 0 15.600 20 93.100 93.100 195.500C160.400 378.100 229 416 291.400 416c37.500 0 42.100-8.400 42.100-22.900 0-66.800-3.400-73.100 15.400-73.100 8.700 0 23.700 4.400 58.700 38.100 40 40 46.600 57.900 69 57.900h58.900c16.800 0 25.300-8.400 20.400-25-11.200-34.900-86.900-106.700-90.300-111.500-8.700-11.200-6.200-16.200 0-26.200.1-.1 72-101.300 79.400-135.600z" fill="#fff"/></g><g fill="none" stroke="#fff" stroke-width="1.35" stroke-linecap="round"><circle cx="259.7" cy="781.5" r="1.9"/><path d="M256.8 784.9 Q259.7 786.9 262.6 784.9 M258.4 786.3 L262.1 789.7 M261 786.3 L257.3 789.7"/></g><g fill="none" stroke="#fff" stroke-width="1.5"><circle cx="286.6" cy="787.6" r="0.6" fill="#fff" stroke-width="1.1"/><path d="M285.8 783.6 A4.6 4.6 0 0 1 290.4 788.4"/><path d="M285.8 780.6 A7.8 7.8 0 0 1 293.6 788.4"/></g></svg>
<div class="r" style="left:371px;top:774px;width:80px;height:18px;border:1px solid rgba(255,255,255,.7);border-radius:1.5px"></div>
<span class="t " style="left:377.69px;top:779px;font:normal normal 8.4px/10px 'Liberation Sans',sans-serif;color:#f1fafc;transform:scaleX(0.9786);">Связаться с нами</span>
<svg class="a" style="left:562px;top:772px" width="46" height="26" viewBox="562 772 46 26" fill="none" stroke="#fff" stroke-width="2" stroke-linecap="round">
<path d="M566.4 780.8 A6.300 6.300 0 1 1 574.3 788.500 Q580 789.300 582.100 793.400"/>
<circle cx="594.3" cy="782.5" r="5.9"/>
<path d="M590.900 787.600 Q586.800 789.300 585.700 793.400 M597.700 787.600 Q601.800 789.300 603.100 793.400"/>
</svg>
<span class="t " style="left:610.36px;top:775px;font:normal normal 7.8px/9px 'Liberation Sans',sans-serif;color:#e9f6fa;transform:scaleX(0.8840);">Студии 38 —</span>
<i class="u" style="left:610.70px;top:783.30px;width:32.60px;background:rgba(255,255,255,.42)"></i>
<span class="t " style="left:610.41px;top:784px;font:normal normal 7.8px/9px 'Liberation Sans',sans-serif;color:#e9f6fa;transform:scaleX(0.9210);">создание сайта</span>
<i class="u" style="left:610.70px;top:792.60px;width:51.40px;background:rgba(255,255,255,.42)"></i>
<div class="r" style="left:0;top:0;width:700px;height:831px;box-shadow:inset 0 0 0 1px rgba(255,255,255,.09);pointer-events:none"></div>
</body></html>
